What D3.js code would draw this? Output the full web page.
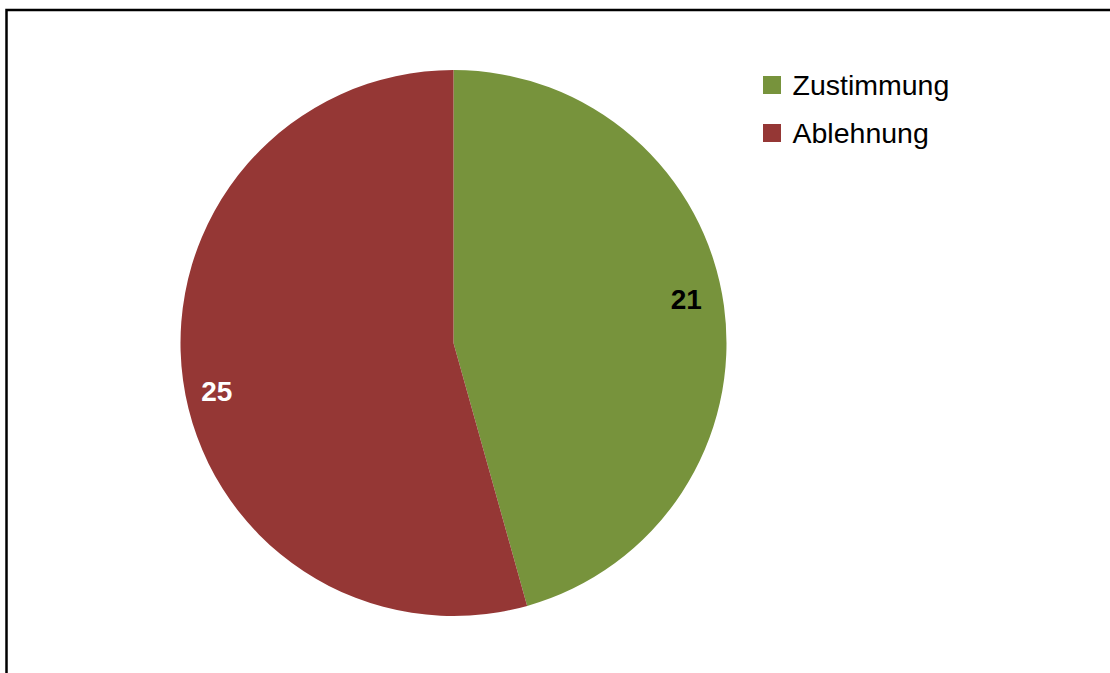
<!DOCTYPE html>
<html lang="de">
<head>
<meta charset="UTF-8" />
<title>Zustimmung / Ablehnung</title>
<style>
  body { margin: 0; background: #fff; }
  svg { display: block; }
  .legend text { font-family: Arial, "Liberation Sans", sans-serif; font-size: 28.5px; fill: #000; }
  .label { font-family: Arial, "Liberation Sans", sans-serif; font-size: 28px; font-weight: bold; }
</style>
</head>
<body>
<svg width="1110" height="673"></svg>
<script src="https://d3js.org/d3.v7.min.js"></script>
<script>
  const categories = ["Zustimmung", "Ablehnung"];
  const values = [21, 25];
  const colors = ["#77933C", "#953735"];
  const labelColors = ["#000", "#fff"];

  const svg = d3.select("svg");

  // chart frame (runs off the right and bottom edge)
  svg.append("rect")
    .attr("x", 6.5).attr("y", 10)
    .attr("width", 1200).attr("height", 800)
    .attr("fill", "none")
    .attr("stroke", "#000")
    .attr("stroke-width", 2.5);

  const cx = 453.5, cy = 343, r = 273;

  const pie = d3.pie().sort(null).value(d => d)(values);
  const arc = d3.arc().innerRadius(0).outerRadius(r);
  const labelArc = d3.arc().innerRadius(237).outerRadius(237);

  const g = svg.append("g").attr("transform", `translate(${cx},${cy})`);

  g.selectAll("path")
    .data(pie)
    .join("path")
    .attr("d", arc)
    .attr("fill", (d, i) => colors[i]);

  // Excel-like nudge of the label boxes along the rim
  const nudge = d => (d.startAngle + d.endAngle) / 2 < Math.PI ? [-2, -12] : [-2, 16];

  g.selectAll("text.label")
    .data(pie)
    .join("text")
    .attr("class", "label")
    .attr("x", d => labelArc.centroid(d)[0] + nudge(d)[0])
    .attr("y", d => labelArc.centroid(d)[1] + nudge(d)[1])
    .attr("text-anchor", "middle")
    .attr("dy", "0.36em")
    .attr("fill", (d, i) => labelColors[i])
    .text(d => d.data);

  const legend = svg.append("g").attr("class", "legend")
    .attr("transform", "translate(763,76)");

  const item = legend.selectAll("g")
    .data(categories)
    .join("g")
    .attr("transform", (d, i) => `translate(0,${i * 48})`);

  item.append("rect")
    .attr("width", 18).attr("height", 18)
    .attr("fill", (d, i) => colors[i]);

  item.append("text")
    .attr("x", 29.5).attr("y", 18.5)
    .text(d => d);
</script>
</body>
</html>
